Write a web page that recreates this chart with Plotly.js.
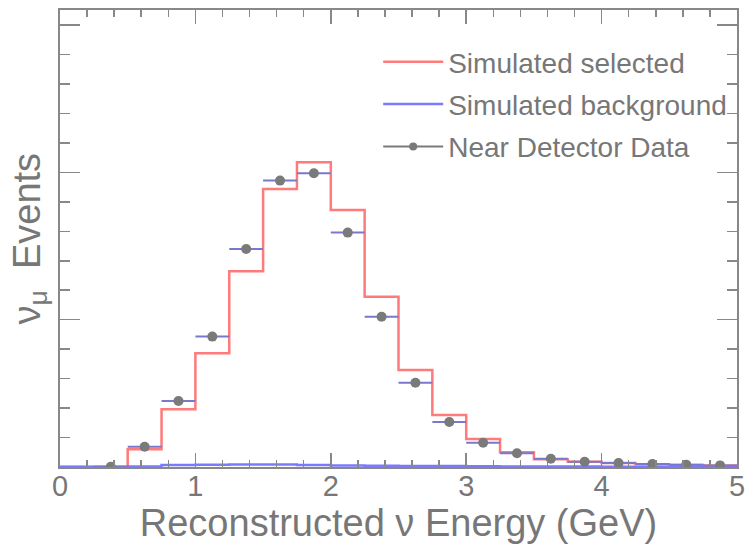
<!DOCTYPE html>
<html>
<head>
<meta charset="utf-8">
<script src="https://cdn.plot.ly/plotly-3.0.1.min.js"></script>
<style>html,body{margin:0;padding:0;background:#fff;}#chart{width:751px;height:554px;}</style>
</head>
<body>
<div id="chart"></div>
<script>
// Bin edges (GeV)
const binEdges = [0, 0.25, 0.5, 0.75, 1.0, 1.25, 1.5, 1.75, 2.0, 2.25, 2.5, 2.75, 3.0, 3.25, 3.5, 3.75, 4.0, 4.25, 4.5, 4.75, 5.0];
// Simulated selected (per bin, arbitrary units)
const simSelected = [0, 0, 0.12, 0.392, 0.772, 1.328, 1.887, 2.069, 1.745, 1.156, 0.659, 0.353, 0.190, 0.100, 0.052, 0.036, 0.027, 0.018, 0.014, 0.011];
// Simulated background (per bin)
const simBackground = [0.002, 0.002, 0.003, 0.014, 0.015, 0.017, 0.017, 0.014, 0.011, 0.009, 0.007, 0.006, 0.005, 0.004, 0.003, 0.003, 0.002, 0.002, 0.002, 0.002];
// Near detector data
const dataE = [0.375, 0.625, 0.875, 1.125, 1.375, 1.625, 1.875, 2.125, 2.375, 2.625, 2.875, 3.125, 3.375, 3.625, 3.875, 4.125, 4.375, 4.625, 4.875];
const dataEvents = [0.002, 0.138, 0.448, 0.885, 1.48, 1.944, 1.994, 1.591, 1.02, 0.572, 0.306, 0.165, 0.093, 0.056, 0.036, 0.027, 0.020, 0.016, 0.011];
const halfWidth = 0.125;

function stepY(vals){ return vals.concat([vals[vals.length-1]]); }

const gray = '#7a7a7a';
const traces = [
  {x: binEdges, y: stepY(simSelected), type:'scatter', mode:'lines', line:{shape:'hv', color:'#ff7a7a', width:2.5}, name:'Simulated selected', legendgroup:'a'},
  {x: binEdges, y: stepY(simBackground), type:'scatter', mode:'lines', line:{shape:'hv', color:'#7a7aff', width:2.5}, name:'Simulated background', legendgroup:'b'},
  {x: dataE, y: dataEvents, type:'scatter', mode:'markers', marker:{color:gray, size:10},
   error_x:{type:'constant', value:halfWidth, width:0, thickness:2, color:'#7878cc'}, name:'Near Detector Data', showlegend:false},
  {x:[null], y:[null], type:'scatter', mode:'lines+markers', line:{color:gray, width:2}, marker:{color:gray, size:8, symbol:'circle'}, name:'Near Detector Data', legendgroup:'c'}
];

const axisCommon = {showline:true, mirror:'allticks', linecolor:'#888', linewidth:2, ticks:'inside', tickcolor:'#888', tickwidth:1.5, showgrid:false, zeroline:false};

const layout = {
  width:751, height:554,
  margin:{l:60, r:14, t:10, b:87},
  paper_bgcolor:'#fff', plot_bgcolor:'#fff',
  font:{family:'Liberation Sans, Arial, sans-serif', color:'#777'},
  showlegend:true,
  legend:{x:0.47, y:0.941, xanchor:'left', yanchor:'top', bgcolor:'rgba(0,0,0,0)', font:{size:28, color:'#777'}, itemwidth:60, tracegroupgap:3},
  xaxis:Object.assign({}, axisCommon, {range:[0,5], dtick:1, ticklen:14, tickfont:{size:29, color:'#777'}, ticklabelstandoff:-8,
    minor:{dtick:0.2, ticklen:7, ticks:'inside', tickcolor:'#888', tickwidth:1.5},
    title:{text:'Reconstructed ν Energy (GeV)', font:{size:38, color:'#777'}, standoff:4}}),
  yaxis:Object.assign({}, axisCommon, {range:[0,3.102], dtick:1, ticklen:20, showticklabels:false,
    minor:{dtick:0.2, ticklen:10, ticks:'inside', tickcolor:'#888', tickwidth:1.5}}),
  annotations:[{text:'ν<sub>μ</sub>  Events', xref:'paper', yref:'paper', x:0, y:0.5, xanchor:'center', yanchor:'middle', xshift:-31, textangle:-90, showarrow:false, font:{size:38, color:'#777'}}]
};

Plotly.newPlot('chart', traces, layout, {displayModeBar:false, staticPlot:true});
</script>
</body>
</html>
